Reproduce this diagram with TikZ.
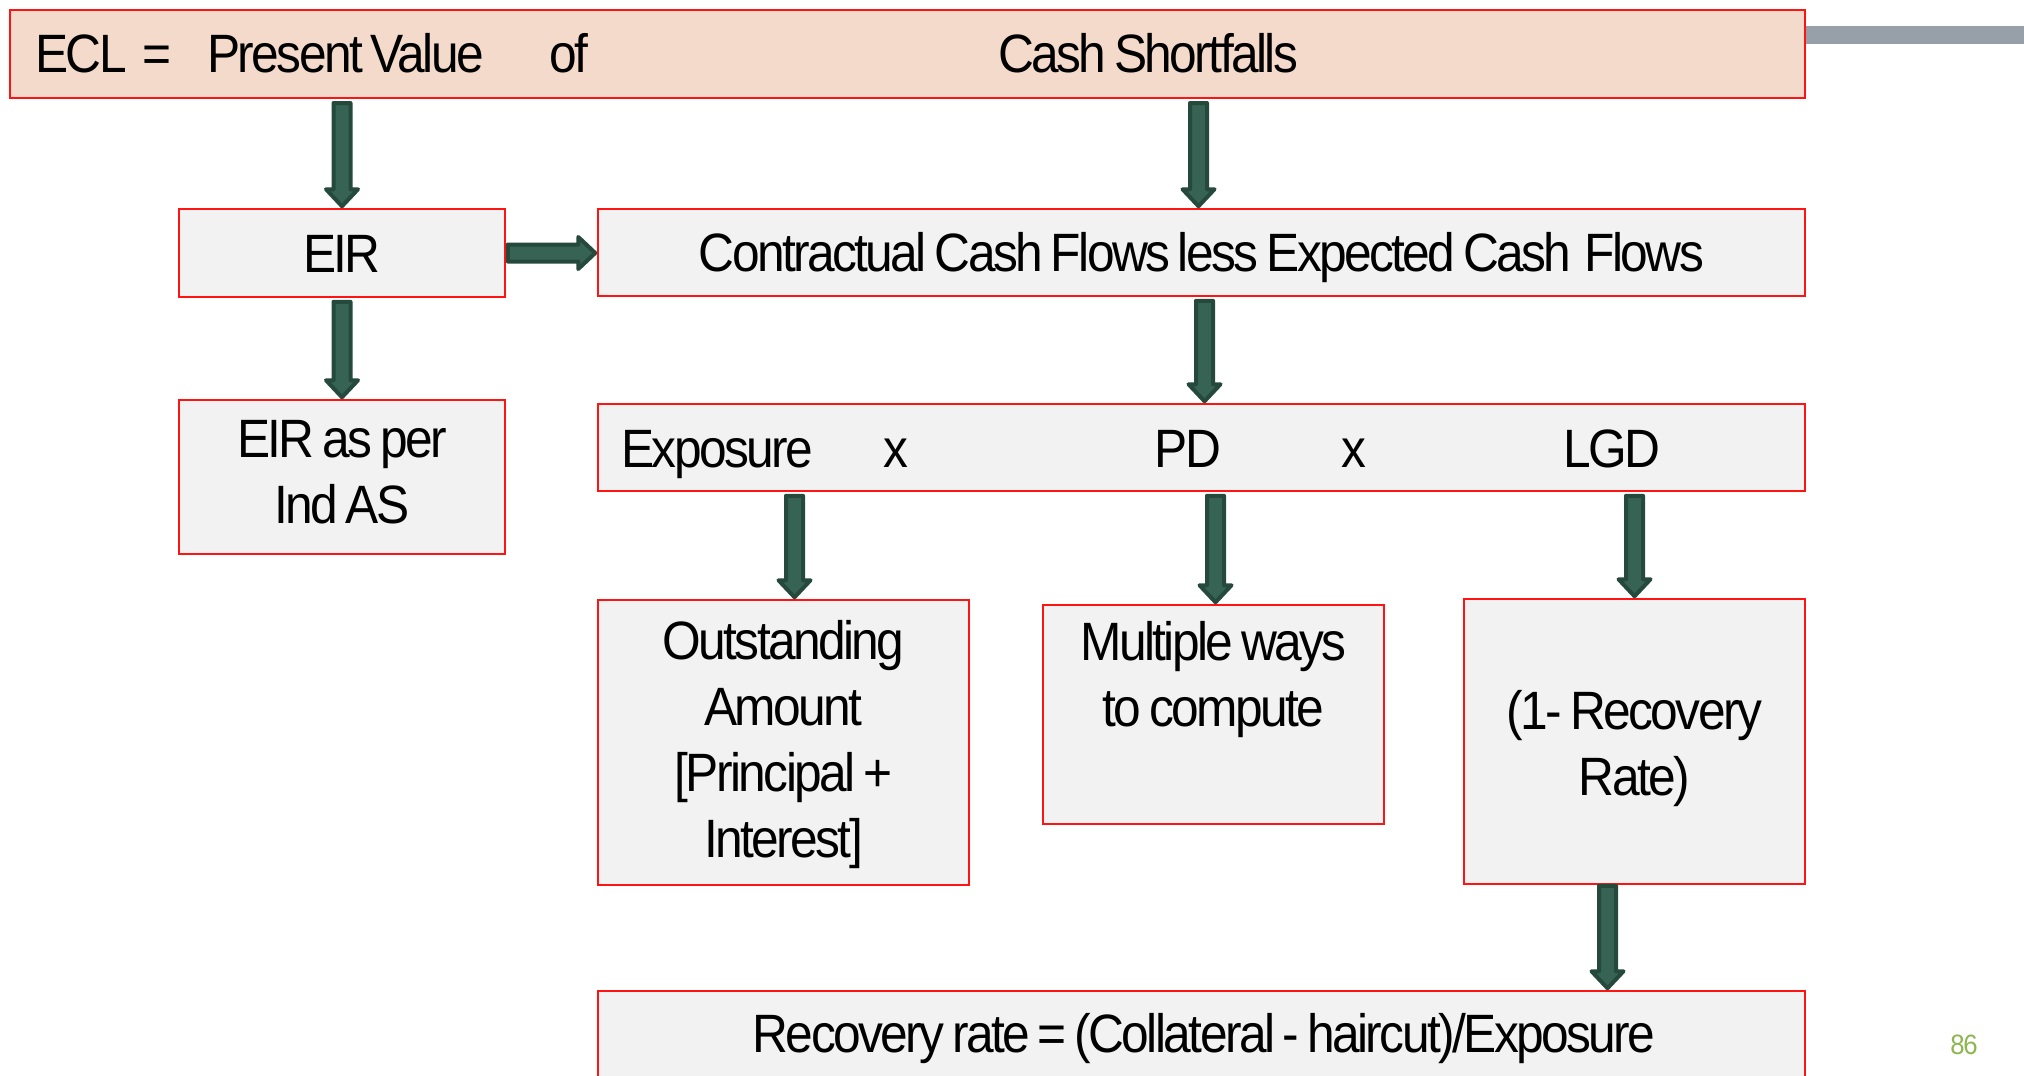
\documentclass[tikz,border=0pt]{standalone}
\usepackage{fontspec}
\setmainfont{Liberation Sans}[FakeStretch=0.92,LetterSpace=-4.8,WordSpace=0.7]
\usetikzlibrary{calc}

\definecolor{peach}{RGB}{244,218,202}
\definecolor{boxgray}{RGB}{242,242,242}
\definecolor{boxred}{RGB}{255,20,20}
\definecolor{arrowfill}{RGB}{54,99,83}
\definecolor{arrowline}{RGB}{37,74,61}
\definecolor{bargray}{RGB}{151,159,168}
\definecolor{pagegreen}{RGB}{141,182,80}

\tikzset{
  cellbox/.style={draw=boxred, fill=boxgray, line width=1.5pt, inner sep=0pt,
    align=center, font=\fontsize{54}{66}\selectfont},
  onetext/.style={text height=38.7pt, text depth=0pt},
  txt/.style={inner sep=0pt, align=center, font=\fontsize{54}{66}\selectfont},
  blockarrow/.style={draw=arrowline, fill=arrowfill, line width=4pt, line join=round},
}

% block arrow pointing down, from #1 (top) to #2 (tip)
\newcommand\blockdown[2]{%
  \path[blockarrow] let \p1=(#1), \p2=(#2) in
    (\x1-8.5pt,\y1) -- (\x1+8.5pt,\y1) -- (\x1+8.5pt,\y2+19pt) -- (\x1+16pt,\y2+19pt)
    -- (\x1,\y2+2pt) -- (\x1-16pt,\y2+19pt) -- (\x1-8.5pt,\y2+19pt) -- cycle;}
% block arrow pointing right, from #1 (tail) to #2 (tip)
\newcommand\blockright[2]{%
  \path[blockarrow] let \p1=(#1), \p2=(#2) in
    (\x1,\y1+8.5pt) -- (\x1,\y1-8.5pt) -- (\x2-19pt,\y1-8.5pt) -- (\x2-19pt,\y1-16pt)
    -- (\x2-2pt,\y1) -- (\x2-19pt,\y1+16pt) -- (\x2-19pt,\y1+8.5pt) -- cycle;}

\begin{document}
\begin{tikzpicture}[x=1pt, y=-1pt]
  \useasboundingbox (0,0) rectangle (2024,1076);
  \clip (0,0) rectangle (2024,1076);

  % header rule and title bar
  \fill[bargray] (1805,26) rectangle (2024,44);
  \node[cellbox, fill=peach, line width=2pt, minimum width=1795pt, minimum height=88pt]
    (top) at (907.5,54) {};
  \node[txt, anchor=base west] (ecl) at (35,72) {ECL};
  \node[txt, anchor=base west] (eq) at (142,72) {=};
  \node[txt, anchor=base west] (pv) at (207,72) {Present Value};
  \node[txt, anchor=base west] (of) at (549,72) {of};
  \node[txt, anchor=base west] (cs) at (998,72) {Cash Shortfalls};

  % second row
  \node[cellbox, onetext, minimum width=326pt, minimum height=88pt] (eir) at (342,253) {EIR};
  \node[cellbox, onetext, minimum width=1207pt, minimum height=87pt] (ccf) at (1201.5,252.5)
    {Contractual Cash Flows less Expected Cash\hspace{0.1em} Flows};

  % third row
  \node[cellbox, minimum width=326pt, minimum height=154pt] (indas) at (342,477) {};
  \node[txt] (indastxt) at (342,472) {EIR as per\\Ind AS};
  \node[cellbox, minimum width=1207pt, minimum height=87pt] (expo) at (1201.5,447.5) {};
  \node[txt, anchor=base west] (exptxt) at (621,467) {Exposure};
  \node[txt, anchor=base] (x1) at (896,467) {x};
  \node[txt, anchor=base] (pd) at (1188,467) {PD};
  \node[txt, anchor=base] (x2) at (1354,467) {x};
  \node[txt, anchor=base] (lgd) at (1612,467) {LGD};

  % fourth row
  \node[cellbox, minimum width=371pt, minimum height=285pt] (out) at (783.5,742.5) {};
  \node[txt] (outtxt) at (783.5,745)
    {Outstanding\\Amount\\[0pt][Principal +\\Interest]};
  \node[cellbox, minimum width=341pt, minimum height=219pt] (mult) at (1213.5,714.5) {};
  \node[txt] (multtxt) at (1213.5,680) {Multiple ways\\to compute};
  \node[cellbox, minimum width=341pt, minimum height=285pt] (rec) at (1634.5,741.5) {};
  \node[txt] (rectxt) at (1634.5,749) {(1- Recovery\\Rate)};

  % bottom row
  \node[cellbox, minimum width=1207pt, minimum height=120pt] (rr) at (1201.5,1051) {};
  \node[txt, anchor=base] (rrtxt) at (1204,1052) {Recovery rate = (Collateral - haircut)/Exposure};

  % page number
  \node[inner sep=0pt, font=\fontsize{28}{30}\selectfont, text=pagegreen] (page) at (1964,1045) {86};

  % connectors
  \blockdown{$(top.south -| eir.north)+(0,4)$}{eir.north}
  \blockdown{$(top.south -| ccf.north)+(-3,4)$}{$(ccf.north)+(-3,0)$}
  \blockright{$(eir.east)+(2,0)$}{ccf.west}
  \blockdown{$(eir.south)+(0,4)$}{indas.north}
  \blockdown{$(ccf.south)+(3,4)$}{$(expo.north)+(3,0)$}
  \blockdown{$(expo.south -| out.north)+(11,4)$}{$(out.north)+(11,0)$}
  \blockdown{$(expo.south -| mult.north)+(2,4)$}{$(mult.north)+(2,0)$}
  \blockdown{$(expo.south -| rec.north)+(0,4)$}{rec.north}
  \blockdown{$(rec.south)+(-27,1)$}{$(rec.south |- rr.north)+(-27,0)$}
\end{tikzpicture}
\end{document}
